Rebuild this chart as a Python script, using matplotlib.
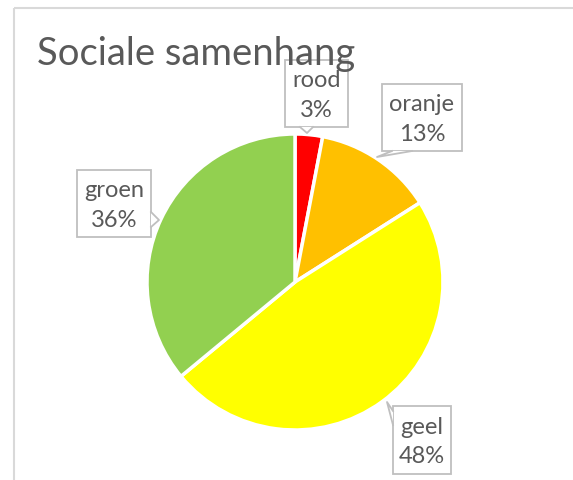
import matplotlib.pyplot as plt
from matplotlib.patches import Rectangle, Polygon
from matplotlib.lines import Line2D
from matplotlib.transforms import Affine2D

categories = ["rood", "oranje", "geel", "groen"]
percentages = [3, 13, 48, 36]
colors = ["#FF0000", "#FFC000", "#FFFF00", "#92D050"]
title = "Sociale samenhang"

W, H = 573, 481
cx, cy, r = 295, 283, 148  # pie centre and radius in pixels

plt.rcParams['font.family'] = ['Lato', 'DejaVu Sans']
text_color = "#595959"
line_color = "#BFBFBF"

fig = plt.figure(figsize=(W / 100, H / 100), dpi=100)
ax = fig.add_axes([0, 0, 1, 1])

ax.pie(percentages, colors=colors, startangle=90, counterclock=False,
       wedgeprops=dict(edgecolor="white", linewidth=2.5))
ax.set_xlim(-cx / r, (W - cx) / r)
ax.set_ylim(-(H - cy) / r, cy / r)
ax.set_aspect('auto')
ax.axis('off')

# pixel coords (y down from top) -> figure
pix = Affine2D().scale(1 / W, -1 / H).translate(0, 1) + fig.transFigure

# callout box (x0, y0, x1, y1) and pointer (base a, base b, tip), in pixels
callouts = {
    "rood": ((285, 61, 348, 128), ((300, 128), (313, 128), (307, 134))),
    "oranje": ((382, 85, 462, 152), ((392, 152), (412, 152), (377, 158))),
    "groen": ((77, 171, 151, 238), ((151, 213), (151, 228), (159, 221))),
    "geel": ((393, 407, 451, 475), ((393, 412), (393, 426), (387, 403))),
}

for name, pct in zip(categories, percentages):
    (x0, y0, x1, y1), (a, b, tip) = callouts[name]
    fig.patches.append(Rectangle((x0, y0), x1 - x0, y1 - y0, transform=pix,
                                 fc="white", ec=line_color, lw=1.3, zorder=3))
    fig.patches.append(Polygon([a, tip, b], closed=True, transform=pix,
                               fc="white", ec="none", lw=0, zorder=4))
    fig.lines.append(Line2D([a[0], tip[0], b[0]], [a[1], tip[1], b[1]],
                            transform=pix, color=line_color, lw=1.3, zorder=5))
    fig.text((x0 + x1) / 2, (y0 + y1) / 2 + 1, f"{name}\n{pct}%", transform=pix,
             ha="center", va="center", fontsize=17, color=text_color,
             linespacing=1.5, zorder=6)

# chart area border (cropped at right and bottom)
fig.patches.append(Rectangle((14, 9), 700, 600, transform=pix, fill=False,
                             ec="#D9D9D9", lw=1.5))

fig.text(37, 65, title, transform=pix, fontsize=27.5, color=text_color,
         ha="left", va="baseline", zorder=10)

fig.savefig("out.png", dpi=100)
